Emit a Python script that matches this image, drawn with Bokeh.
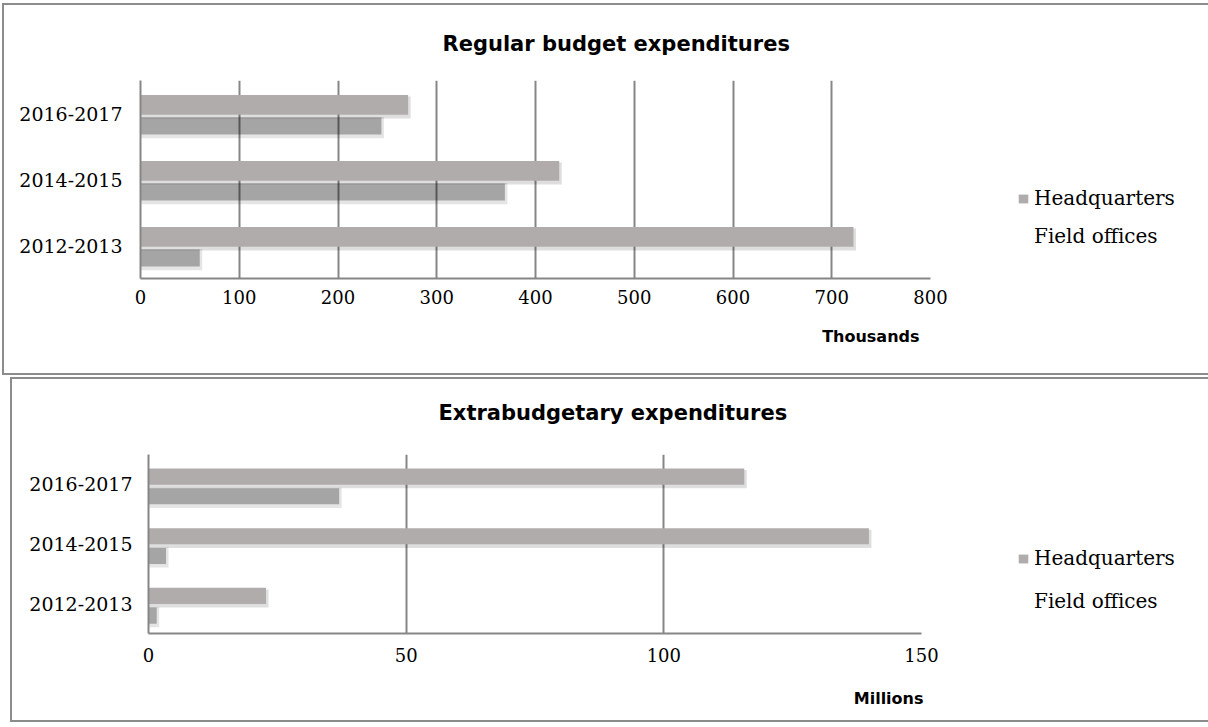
from bokeh.plotting import figure
from bokeh.models import (Range1d, FactorRange, FixedTicker, Legend, LegendItem,
                          ColumnDataSource, Title)
from bokeh.transform import dodge
from bokeh.layouts import column
from bokeh.embed import file_html
from bokeh.resources import INLINE

# ---------------- data ----------------
periods = ["2012-2013", "2014-2015", "2016-2017"]

regular_hq = [722, 424, 271]        # thousands
regular_field = [60, 369, 244]      # thousands
regular_ticks = [0, 100, 200, 300, 400, 500, 600, 700, 800]

extra_hq = [22.8, 139.8, 115.6]     # millions
extra_field = [1.6, 3.4, 37.0]      # millions
extra_ticks = [0, 50, 100, 150]

series_labels = ["Headquarters", "Field offices"]
titles = ["Regular budget expenditures", "Extrabudgetary expenditures"]
unit_labels = ["Thousands", "Millions"]

HQ_COLOR = "#b0acab"
GRID_COLOR = "#868686"


def spacer(gap):
    return Title(text=" ", text_font_size="1px", standoff=gap)


def make_chart(title, unit_label, hq, field, ticks, bl, bt, br, bb, fw, fh,
               x_standoff, y_standoff, title_offset, title_gap,
               unit_offset, unit_gap, legend_loc, legend_spacing,
               hq_h, field_h, hq_off, field_off, margin):
    xmax = ticks[-1]
    p = figure(frame_width=fw, frame_height=fh, x_range=Range1d(0, xmax),
               y_range=FactorRange(*periods), output_backend="svg",
               toolbar_location=None, title=None, min_border_left=bl,
               min_border_top=bt, min_border_right=br, min_border_bottom=bb)
    p.margin = margin
    p.styles = {"border": "2px solid #8c8c8c"}
    p.outline_line_color = None
    p.background_fill_color = "white"
    p.border_fill_color = "white"

    pxx = fw / xmax          # pixels per x unit
    band = fh / 3.0          # pixels per category

    src = ColumnDataSource(dict(
        period=periods, hq=hq, field=field,
        hq_sh=[v + 2.5 / pxx for v in hq],
        field_sh=[v + 2.5 / pxx for v in field],
    ))

    # grid
    p.xgrid.ticker = FixedTicker(ticks=ticks)
    p.xgrid.grid_line_color = GRID_COLOR
    p.xgrid.grid_line_width = 2
    p.ygrid.grid_line_color = None

    # field offices: shadow-only bars (translucent, blurred look)
    p.hbar(y=dodge("period", field_off - 1.5 / band, range=p.y_range),
           left=0, right="field_sh", height=field_h + 4.0 / band, source=src,
           fill_color="black", fill_alpha=0.10, line_color=None)
    p.hbar(y=dodge("period", field_off, range=p.y_range),
           left=0, right="field", height=field_h, source=src,
           fill_color="black", fill_alpha=0.28, line_color=None)

    # headquarters shadow + bar
    p.hbar(y=dodge("period", hq_off - 2.5 / band, range=p.y_range),
           left=0, right="hq_sh", height=hq_h + 2.0 / band, source=src,
           fill_color="black", fill_alpha=0.13, line_color=None)
    r_hq = p.hbar(y=dodge("period", hq_off, range=p.y_range),
                  left=0, right="hq", height=hq_h, source=src,
                  fill_color=HQ_COLOR, line_color=None)

    dummy = p.hbar(y="y", left=0, right="r", height=0.1,
                   source=ColumnDataSource(dict(y=[], r=[])),
                   fill_alpha=0, line_alpha=0)

    # axes
    p.xaxis.ticker = FixedTicker(ticks=ticks)
    for ax in (p.xaxis[0], p.yaxis[0]):
        ax.axis_line_color = GRID_COLOR
        ax.axis_line_width = 2
        ax.major_tick_line_color = None
        ax.minor_tick_line_color = None
        ax.major_tick_out = 0
        ax.major_tick_in = 0
        ax.major_label_text_color = "black"
        ax.major_label_text_font = "DejaVu Serif"
    p.xaxis.major_label_text_font_size = "18px"
    p.xaxis.major_label_standoff = x_standoff
    p.yaxis.major_label_text_font_size = "19px"
    p.yaxis.major_label_standoff = y_standoff

    # title (spacer keeps it a fixed gap above the frame)
    p.add_layout(spacer(title_gap), "above")
    p.add_layout(Title(text=title, align="left", offset=title_offset, standoff=0,
                       text_font="DejaVu Sans", text_font_style="bold",
                       text_font_size="21px", text_color="black"), "above")

    # unit label below the axis
    p.add_layout(spacer(unit_gap), "below")
    p.add_layout(Title(text=unit_label, align="right", offset=unit_offset,
                       standoff=0, text_font="DejaVu Sans",
                       text_font_style="bold", text_font_size="16px",
                       text_color="black"), "below")

    legend = Legend(items=[LegendItem(label=series_labels[0], renderers=[r_hq]),
                           LegendItem(label=series_labels[1], renderers=[dummy])],
                    location=legend_loc, orientation="vertical")
    legend.label_text_font = "DejaVu Serif"
    legend.label_text_font_size = "20px"
    legend.label_text_color = "black"
    legend.glyph_width = 12
    legend.glyph_height = 11
    legend.label_standoff = 5
    legend.label_height = 20
    legend.spacing = legend_spacing
    legend.padding = 0
    legend.margin = 0
    legend.border_line_color = None
    legend.background_fill_alpha = 0
    p.add_layout(legend, "right")
    return p


# top chart box: page (2,3)-(1206,375); frame x 140..926, y 80..274
p1 = make_chart(titles[0], unit_labels[0], regular_hq, regular_field, regular_ticks,
                bl=136, bt=75, br=278, bb=99, fw=786, fh=194,
                x_standoff=11, y_standoff=18,
                title_offset=302, title_gap=22,
                unit_offset=11, unit_gap=15,
                legend_loc=(87, 30), legend_spacing=14,
                hq_h=0.30, field_h=0.26, hq_off=0.13, field_off=-0.19,
                margin=(3, 0, 0, 2))

# bottom chart box: page (10,377)-(1208,722); frame x 146..915, y 454..629
p2 = make_chart(titles[1], unit_labels[1], extra_hq, extra_field, extra_ticks,
                bl=134, bt=75, br=289, bb=91, fw=769, fh=175,
                x_standoff=14, y_standoff=16,
                title_offset=290, title_gap=27,
                unit_offset=-2, unit_gap=19,
                legend_loc=(96, 20), legend_spacing=19,
                hq_h=0.27, field_h=0.27, hq_off=0.13, field_off=-0.20,
                margin=(0, 0, 0, 10))

layout = column(p1, p2, spacing=2)

with open("out.html", "w") as f:
    f.write(file_html(layout, INLINE))
